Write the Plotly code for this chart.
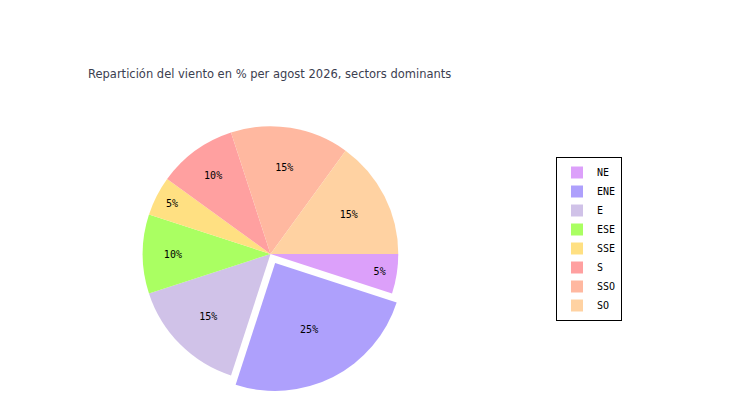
import plotly.graph_objects as go

sectors = ["NE", "ENE", "E", "ESE", "SSE", "S", "SSO", "SO"]
percent = [5, 25, 15, 10, 5, 10, 15, 15]
colors = ["#DCA0FA", "#AEA0FC", "#D0C2E8", "#AAFF62",
          "#FFE082", "#FFA0A0", "#FFB8A0", "#FFD2A2"]
explode = [0, 0.08, 0, 0, 0, 0, 0, 0]

fig = go.Figure(go.Pie(
    labels=sectors,
    values=percent,
    sort=False,
    direction="clockwise",
    rotation=90,
    pull=explode,
    marker=dict(colors=colors, line=dict(width=0)),
    texttemplate="%{value}%",
    textposition="inside",
    insidetextorientation="horizontal",
    textfont=dict(family="DejaVu Sans Mono", size=10, color="black"),
    hoverinfo="label+percent",
    domain=dict(x=[0.16, 0.54], y=[0.04, 0.73]),
))

fig.update_layout(
    width=750, height=400,
    margin=dict(l=0, r=0, t=0, b=0),
    paper_bgcolor="white",
    title=dict(text="Repartición del viento en % per agost 2026, sectors dominants",
               x=80 / 750, xanchor="left", y=1 - 66 / 400, yanchor="middle",
               pad=dict(l=0, r=0, t=0, b=0),
               font=dict(family="DejaVu Sans", size=11.5, color="#3C4050")),
    legend=dict(x=548 / 750, y=1 - 149 / 400, xanchor="left", yanchor="top",
                bgcolor="white", bordercolor="black", borderwidth=1,
                itemwidth=30,
                font=dict(family="DejaVu Sans Mono", size=10, color="black"),
                tracegroupgap=0),
)

fig.write_html("out.html")
